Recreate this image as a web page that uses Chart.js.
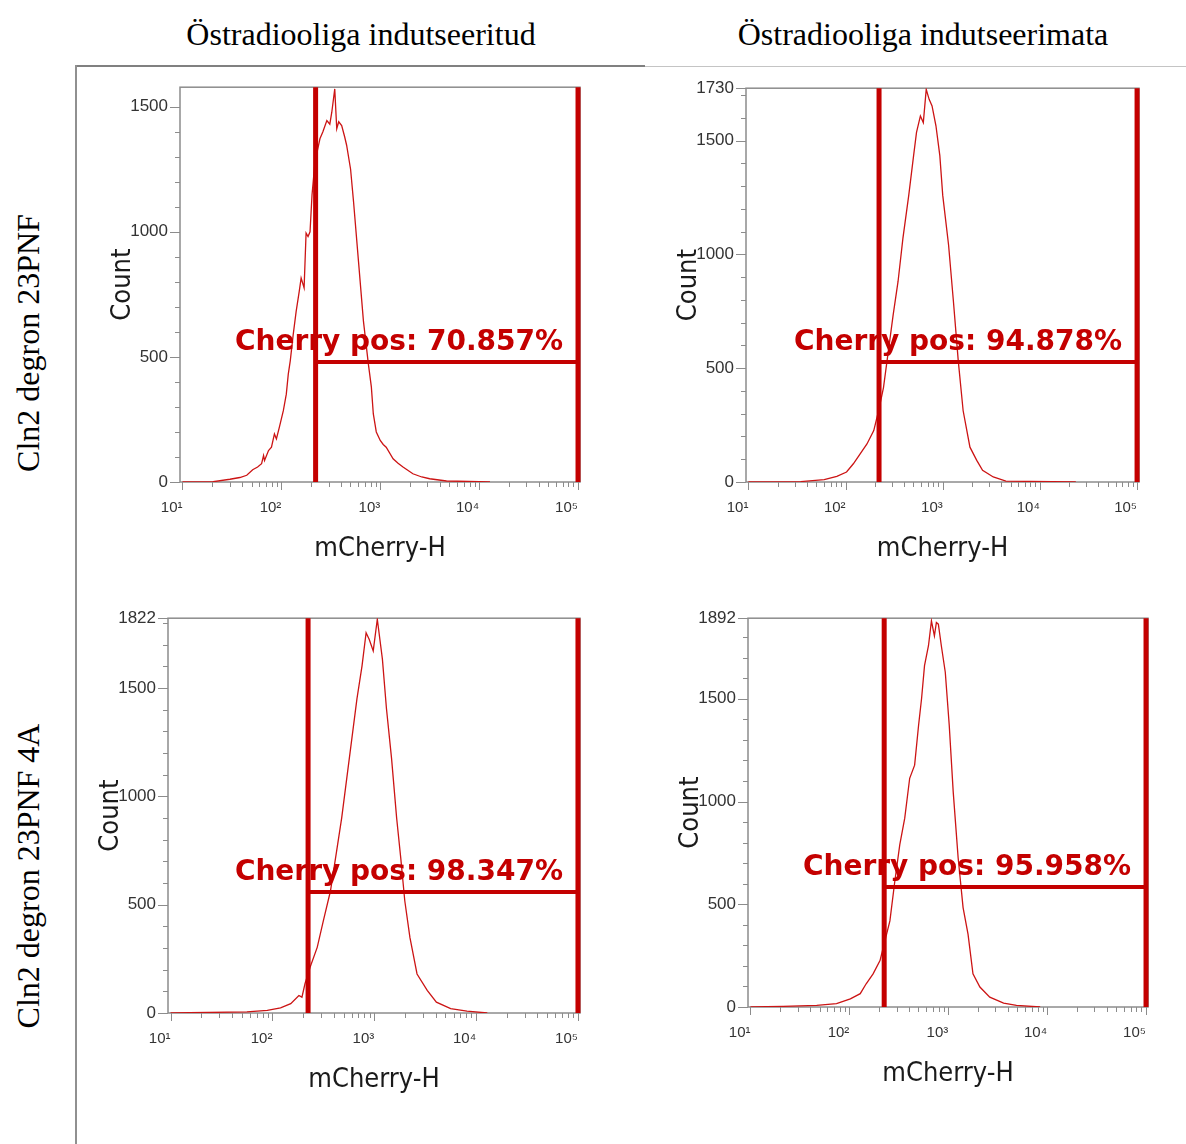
<!DOCTYPE html>
<html>
<head>
<meta charset="utf-8">
<title>mCherry-H histograms</title>
<script src="https://cdn.jsdelivr.net/npm/chart.js@4.4.1/dist/chart.umd.min.js"></script>
<style>
    html, body { margin: 0; padding: 0; background: #fff; }
    body { width: 1186px; height: 1144px; position: relative; overflow: hidden; }
    .col-title { position: absolute; top: 18px; width: 600px; text-align: center;
        font-family: "Liberation Serif", "Times New Roman", serif; font-size: 32px; line-height: 32px; color: #000; }
    .row-title { position: absolute; width: 400px; height: 40px; line-height: 40px; text-align: center;
        font-family: "Liberation Serif", "Times New Roman", serif; font-size: 32px; color: #000;
        transform: rotate(-90deg); white-space: nowrap; }
    .rule { position: absolute; }
    canvas { position: absolute; }
</style>
</head>
<body>
<div class="col-title" style="left: 61px;">Östradiooliga indutseeritud</div>
<div class="col-title" style="left: 623px;">Östradiooliga indutseerimata</div>
<div class="row-title" style="left: -172px; top: 323px;">Cln2 degron 23PNF</div>
<div class="row-title" style="left: -172px; top: 856px;">Cln2 degron 23PNF 4A</div>
<div class="rule" style="left: 76px; top: 65px; width: 569px; height: 2px; background: #808080;"></div>
<div class="rule" style="left: 645px; top: 66px; width: 541px; height: 1px; background: #c4c4c4;"></div>
<div class="rule" style="left: 75px; top: 65px; width: 2px; height: 1079px; background: #909090;"></div>
<canvas id="panel0"></canvas>
<canvas id="panel1"></canvas>
<canvas id="panel2"></canvas>
<canvas id="panel3"></canvas>
<script>
// histogram traces, x as log10(mCherry-H), y as event count
var p1Exp = [1.00, 1.31, 1.48, 1.58, 1.65, 1.71, 1.76, 1.80, 1.82, 1.83, 1.87, 1.90, 1.93, 1.95, 1.98, 2.02, 2.05, 2.07, 2.09, 2.12,
    2.15, 2.18, 2.20, 2.23, 2.25, 2.27, 2.29, 2.31, 2.34, 2.39, 2.42, 2.46, 2.49, 2.51, 2.54, 2.56, 2.58, 2.61, 2.64, 2.66,
    2.70, 2.73, 2.78, 2.83, 2.88, 2.91, 2.93, 2.96, 3.00, 3.03, 3.06, 3.13, 3.18, 3.23, 3.33, 3.42, 3.50, 3.67, 4.11];
var p1Count = [0, 1, 11, 18, 27, 49, 60, 73, 106, 86, 126, 139, 192, 172, 219, 285, 351, 431, 484, 590,
    683, 760, 815, 776, 995, 981, 1000, 1147, 1280, 1372, 1400, 1445, 1430, 1478, 1571, 1412, 1440, 1425, 1380, 1346,
    1250, 1120, 882, 643, 471, 380, 272, 200, 166, 150, 139, 93, 75, 60, 33, 20, 13, 4, 0];

var p2Exp = [1.00, 1.54, 1.78, 1.91, 2.01, 2.08, 2.15, 2.22, 2.29, 2.34, 2.39, 2.44, 2.49, 2.54, 2.59, 2.65, 2.70, 2.73,
    2.77, 2.80, 2.83, 2.86, 2.89, 2.93, 2.97, 3.00, 3.06, 3.11, 3.16, 3.21, 3.28, 3.35, 3.41, 3.52, 3.65, 4.37];
var p2Count = [0, 2, 10, 25, 44, 80, 124, 167, 226, 313, 415, 575, 735, 881, 1070, 1259, 1434, 1536,
    1608, 1579, 1725, 1681, 1652, 1565, 1434, 1259, 1041, 793, 531, 313, 153, 95, 51, 22, 4, 0];

var p3Exp = [1.00, 1.75, 1.95, 2.08, 2.18, 2.26, 2.29, 2.32, 2.37, 2.44, 2.50, 2.57, 2.63, 2.68, 2.73, 2.78, 2.83, 2.88,
    2.92, 2.95, 2.99, 3.03, 3.08, 3.12, 3.17, 3.22, 3.26, 3.30, 3.35, 3.42, 3.52, 3.61, 3.75, 3.91, 4.11];
var p3Count = [0, 5, 12, 24, 43, 81, 73, 135, 211, 303, 425, 563, 746, 899, 1083, 1266, 1450, 1602,
    1755, 1725, 1671, 1817, 1633, 1404, 1174, 899, 716, 517, 349, 180, 104, 50, 20, 9, 0];

var p4Exp = [1.00, 1.33, 1.67, 1.87, 2.01, 2.11, 2.17, 2.24, 2.31, 2.36, 2.41, 2.46, 2.51, 2.56, 2.61, 2.66, 2.70, 2.73,
    2.76, 2.80, 2.83, 2.86, 2.88, 2.90, 2.93, 2.97, 3.01, 3.05, 3.10, 3.15, 3.20, 3.25, 3.32, 3.42, 3.56, 3.69, 3.93];
var p4Count = [0, 3, 8, 16, 40, 65, 113, 161, 226, 323, 419, 613, 790, 919, 1113, 1177, 1371, 1500,
    1661, 1758, 1879, 1806, 1871, 1863, 1758, 1629, 1371, 1048, 726, 484, 355, 161, 97, 48, 19, 8, 0];

var histExp = [p1Exp, p2Exp, p3Exp, p4Exp];
var histCount = [p1Count, p2Count, p3Count, p4Count];

// axis ranges and labels
var yMax = [1578, 1730, 1822, 1892];
var yTopLabel = [false, true, true, true];
var xTickValues = [10, 100, 1000, 10000, 100000];
var xTickLabels = ['10¹', '10²', '10³', '10⁴', '10⁵'];

// "Cherry pos" gate
var gateLow = [222, 221, 224, 225];
var gateHigh = 100000;
var gateLevel = [480, 527, 558, 584];
var gateText = ['Cherry pos: 70.857%', 'Cherry pos: 94.878%', 'Cherry pos: 98.347%', 'Cherry pos: 95.958%'];

// page placement of each plot area
var plotBoxes = [
    { left: 180, top: 85, right: 580, bottom: 482 },
    { left: 746, top: 86, right: 1139, bottom: 482 },
    { left: 168, top: 616, right: 580, bottom: 1013 },
    { left: 748, top: 616, right: 1148, bottom: 1007 }
];

var Y_AXIS_W = 110, X_AXIS_H = 100, PAD_TOP = 20, PAD_RIGHT = 30;
var RED = '#c40000';
var AXIS_GRAY = '#8c8c8c';
var SANS = '"DejaVu Sans Condensed", "Liberation Sans", Arial, sans-serif';

(function () {
    function strokeLine(ctx, x1, y1, x2, y2) {
        ctx.beginPath();
        ctx.moveTo(x1, y1);
        ctx.lineTo(x2, y2);
        ctx.stroke();
    }

    // frame + tick marks (major ticks longer than minor ones)
    var axisDecor = {
        id: 'axisDecor',
        beforeDatasetsDraw: function (chart) {
            var ctx = chart.ctx, a = chart.chartArea;
            var xs = chart.scales.x, ys = chart.scales.y;
            ctx.save();
            ctx.strokeStyle = AXIS_GRAY;
            ctx.lineWidth = 1.5;
            ctx.strokeRect(a.left, a.top, a.right - a.left, a.bottom - a.top);
            ctx.lineWidth = 1;
            ys.ticks.forEach(function (t) {
                var y = Math.round(ys.getPixelForValue(t.value)) + 0.5;
                strokeLine(ctx, a.left - (t.label ? 10 : 5), y, a.left, y);
            });
            xTickValues.forEach(function (dec) {
                for (var k = 1; k <= 9; k++) {
                    var v = dec * k;
                    if (v > xs.max) break;
                    var x = Math.round(xs.getPixelForValue(v)) + 0.5;
                    strokeLine(ctx, x, a.bottom, x, a.bottom + (k === 1 ? 8 : 5));
                }
            });
            ctx.restore();
        }
    };

    function gateLabel(i) {
        return {
            id: 'gateLabel' + i,
            afterDatasetsDraw: function (chart) {
                var ctx = chart.ctx;
                var x = chart.scales.x.getPixelForValue(gateHigh) - 15;
                var y = chart.scales.y.getPixelForValue(gateLevel[i]) - 12;
                ctx.save();
                ctx.font = 'bold 28px "DejaVu Sans", Verdana, sans-serif';
                ctx.fillStyle = RED;
                ctx.textAlign = 'right';
                ctx.textBaseline = 'alphabetic';
                ctx.fillText(gateText[i], x, y);
                ctx.restore();
            }
        };
    }

    function buildChart(i) {
        var box = plotBoxes[i];
        var canvas = document.getElementById('panel' + i);
        var w = box.right - box.left + Y_AXIS_W + PAD_RIGHT;
        var h = box.bottom - box.top + PAD_TOP + X_AXIS_H;
        canvas.width = w;
        canvas.height = h;
        canvas.style.left = (box.left - Y_AXIS_W) + 'px';
        canvas.style.top = (box.top - PAD_TOP) + 'px';
        canvas.style.width = w + 'px';
        canvas.style.height = h + 'px';

        var curve = histExp[i].map(function (e, k) { return { x: Math.pow(10, e), y: histCount[i][k] }; });

        return new Chart(canvas, {
            type: 'line',
            data: {
                datasets: [
                    { data: curve, borderColor: '#cc1414', borderWidth: 1.3, pointRadius: 0, tension: 0, order: 1 },
                    { data: [{ x: gateLow[i], y: 0 }, { x: gateLow[i], y: yMax[i] }], borderColor: RED, borderWidth: 5, pointRadius: 0, order: 0, clip: false },
                    { data: [{ x: gateHigh, y: 0 }, { x: gateHigh, y: yMax[i] }], borderColor: RED, borderWidth: 5, pointRadius: 0, order: 0, clip: false },
                    { data: [{ x: gateLow[i], y: gateLevel[i] }, { x: gateHigh, y: gateLevel[i] }], borderColor: RED, borderWidth: 4, pointRadius: 0, order: 0, clip: false }
                ]
            },
            options: {
                responsive: false,
                animation: false,
                events: [],
                layout: { padding: { left: 0, top: PAD_TOP, right: PAD_RIGHT, bottom: 0 } },
                plugins: { legend: { display: false }, tooltip: { enabled: false } },
                scales: {
                    x: {
                        type: 'logarithmic',
                        position: 'bottom',
                        min: Math.pow(10, 0.975),
                        max: Math.pow(10, 5.02),
                        grid: { display: false, drawTicks: false },
                        border: { display: false },
                        afterBuildTicks: function (scale) {
                            scale.ticks = xTickValues.map(function (v) { return { value: v }; });
                        },
                        afterFit: function (scale) { scale.height = X_AXIS_H; },
                        ticks: {
                            autoSkip: false,
                            maxRotation: 0,
                            align: 'end',
                            padding: 17,
                            color: '#333',
                            font: { family: '"Liberation Sans", Arial, sans-serif', size: 15 },
                            callback: function (v) {
                                var idx = xTickValues.indexOf(v);
                                return idx >= 0 ? xTickLabels[idx] : '';
                            }
                        },
                        title: {
                            display: true,
                            text: 'mCherry-H',
                            color: '#1a1a1a',
                            font: { family: SANS, size: 27 },
                            padding: { top: 0, bottom: 17 }
                        }
                    },
                    y: {
                        type: 'linear',
                        min: 0,
                        max: yMax[i],
                        grid: { display: false, drawTicks: false },
                        border: { display: false },
                        afterBuildTicks: function (scale) {
                            var ticks = [];
                            for (var v = 0; v <= yMax[i]; v += 100) ticks.push({ value: v });
                            if (yTopLabel[i]) ticks.push({ value: yMax[i] });
                            scale.ticks = ticks;
                        },
                        afterFit: function (scale) { scale.width = Y_AXIS_W; },
                        ticks: {
                            autoSkip: false,
                            padding: 12,
                            color: '#333',
                            font: { family: '"Liberation Sans", Arial, sans-serif', size: 17 },
                            callback: function (v) {
                                return (v % 500 === 0 || (yTopLabel[i] && v === yMax[i])) ? String(v) : '';
                            }
                        },
                        title: {
                            display: true,
                            text: 'Count',
                            color: '#1a1a1a',
                            font: { family: SANS, size: 27 },
                            padding: { top: 37, bottom: 0 }
                        }
                    }
                }
            },
            plugins: [axisDecor, gateLabel(i)]
        });
    }

    function init() {
        for (var i = 0; i < plotBoxes.length; i++) buildChart(i);
    }

    if (document.readyState === 'loading') {
        document.addEventListener('DOMContentLoaded', init);
    } else {
        init();
    }
})();
</script>
</body>
</html>
